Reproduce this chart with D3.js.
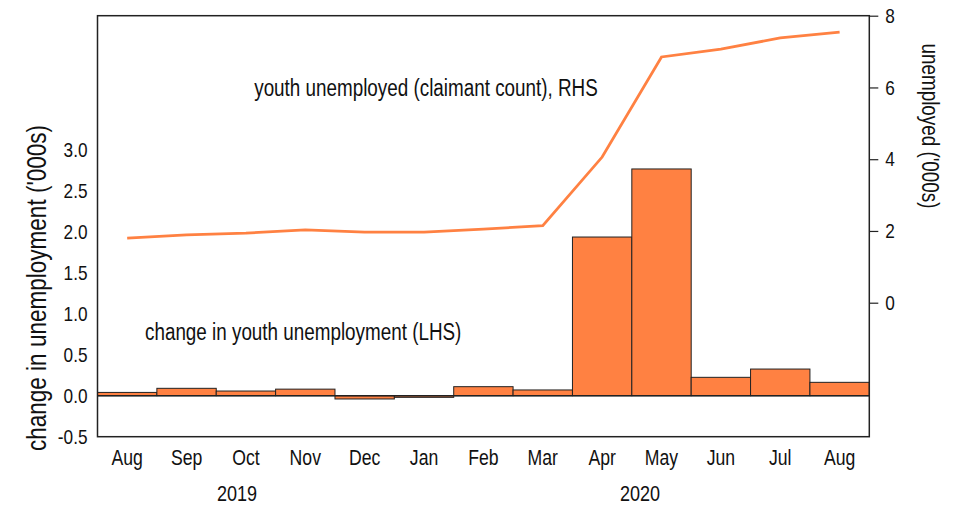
<!DOCTYPE html>
<html><head><meta charset="utf-8">
<script src="https://cdn.jsdelivr.net/npm/d3@7"></script>
<style>body{margin:0;background:#fff}text{font-family:"Liberation Sans",Arial,sans-serif;fill:#111}</style>
</head><body>
<svg id="c" width="955" height="507"></svg>
<script>
const months = ["Aug","Sep","Oct","Nov","Dec","Jan","Feb","Mar","Apr","May","Jun","Jul","Aug"];
const monthKeys = ["2019-08","2019-09","2019-10","2019-11","2019-12","2020-01","2020-02","2020-03","2020-04","2020-05","2020-06","2020-07","2020-08"];
const changeLHS = [0.04,0.09,0.057,0.08,-0.04,-0.02,0.11,0.07,1.935,2.765,0.224,0.325,0.163];
const unemployedRHS = [1.80,1.89,1.94,2.03,1.97,1.97,2.05,2.15,4.06,6.85,7.07,7.38,7.54];
const leftTicks = [-0.5,0,0.5,1,1.5,2,2.5,3];
const rightTicks = [0,2,4,6,8];
const years = [{label:"2019",x:237},{label:"2020",x:640}];

const FONT = '"Liberation Sans",Arial,sans-serif';
const SX = 0.82; // narrow font emulation
const svg = d3.select("#c");
const L = 97.5, R = 869.3, T = 15.7, B = 436.7;
const x = d3.scaleBand().domain(monthKeys).range([L,R]).padding(0);
const yL = d3.scaleLinear().domain([-0.5,4.634]).range([B,T]);
const yR = d3.scaleLinear().domain([-3.735,8]).range([B,T]);
const orange = "#ff8142";

// bars
svg.append("g").selectAll("rect").data(changeLHS).join("rect")
  .attr("x",(d,i)=>x(monthKeys[i]))
  .attr("width",x.bandwidth())
  .attr("y",d=>yL(Math.max(0,d)))
  .attr("height",d=>Math.abs(yL(d)-yL(0)))
  .attr("fill",orange).attr("stroke","#222").attr("stroke-width",1);

// zero line
svg.append("line").attr("x1",L).attr("x2",R).attr("y1",yL(0)).attr("y2",yL(0))
  .attr("stroke","#222").attr("stroke-width",1.5);

// line
const line = d3.line().x((d,i)=>x(monthKeys[i])+x.bandwidth()/2).y(d=>yR(d));
svg.append("path").datum(unemployedRHS).attr("d",line)
  .attr("fill","none").attr("stroke",orange).attr("stroke-width",2.8);

// frame
svg.append("rect").attr("x",L).attr("y",T).attr("width",R-L).attr("height",B-T)
  .attr("fill","none").attr("stroke","#222").attr("stroke-width",1.5);

function narrow(sel){
  sel.each(function(){
    const t = d3.select(this);
    const ax = +t.attr("x") || 0;
    t.attr("transform",`translate(${ax},0) scale(${SX},1) translate(${-ax},0)`);
  });
}
function styleText(g,size){
  const t = g.selectAll("text").style("font-size",size+"px").attr("font-family",FONT).attr("fill","#111");
  narrow(t);
}
// left axis labels
const gl = svg.append("g").attr("transform",`translate(${L},0)`)
  .call(d3.axisLeft(yL).tickValues(leftTicks).tickSize(0).tickPadding(10)
    .tickFormat(d=>d3.format(".1f")(d).replace("\u2212","-")));
gl.select(".domain").remove();
styleText(gl,21);

// right axis
const gr = svg.append("g").attr("transform",`translate(${R},0)`)
  .call(d3.axisRight(yR).tickValues(rightTicks).tickSize(9).tickPadding(7).tickFormat(d3.format("d")));
gr.select(".domain").remove();
gr.selectAll("line").attr("stroke","#222").attr("stroke-width",1.2);
styleText(gr,21);

// bottom axis
const gb = svg.append("g").attr("transform",`translate(0,${B})`)
  .call(d3.axisBottom(x).tickSize(0).tickPadding(13).tickFormat((d,i)=>months[i]));
gb.select(".domain").remove();
styleText(gb,21.5);

// years
narrow(svg.append("g").selectAll("text").data(years).join("text")
  .attr("x",d=>d.x).attr("y",501).attr("text-anchor","middle").style("font-size","22px").text(d=>d.label));

// annotations
narrow(svg.append("text").attr("x",426).attr("y",96).attr("text-anchor","middle").style("font-size","23px")
  .text("youth unemployed (claimant count), RHS"));
narrow(svg.append("text").attr("x",145).attr("y",340).style("font-size","23px")
  .text("change in youth unemployment (LHS)"));

// axis titles
svg.append("text").attr("transform",`translate(46,288) rotate(-90) scale(${SX},1)`).attr("text-anchor","middle")
  .style("font-size","27.5px").text("change in unemployment ('000s)");
svg.append("text").attr("transform",`translate(922,126) rotate(90) scale(${SX},1)`).attr("text-anchor","middle")
  .style("font-size","23px").text("unemployed ('000s)");
</script>
</body></html>
